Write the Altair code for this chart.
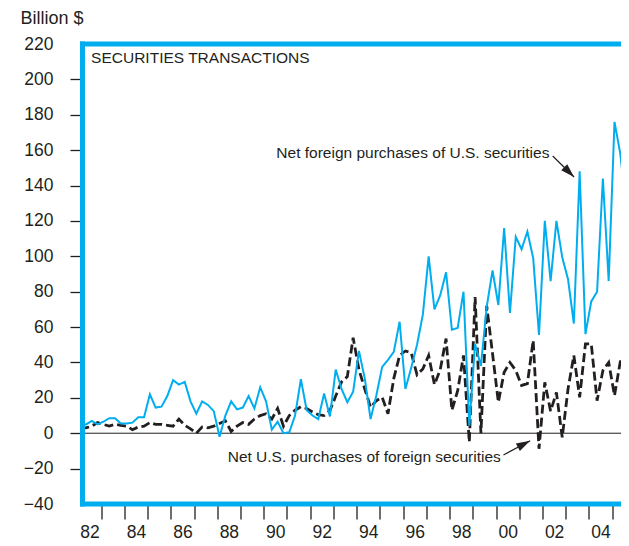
import altair as alt
import pandas as pd

# quarterly observations, 1982Q1 .. 2005Q4 (billion $)
quarters = [f"{y}Q{q}" for y in range(1982, 2006) for q in range(1, 5)]

foreign_purchases_of_us = [
    5, 5, 7, 5,
    6.5, 8.5, 8.5, 5.5,
    5.5, 6, 9, 9,
    22, 14.5, 15, 21,
    30, 27.5, 29, 18,
    11, 18, 16, 12.5,
    -2, 10, 18, 13.5,
    14.5, 21, 14, 26,
    18, 2, 6.5, 0,
    0.5, 10, 30.5, 13,
    10, 8, 22.5, 9.5,
    36, 25, 17.5, 23.5,
    46.5, 31, 8, 21.5,
    37.5, 41.5, 46, 63,
    25, 37, 50, 67,
    100, 70, 78, 91,
    58.5, 59.5, 80, 4.2,
    50.5, 38, 71.5, 92,
    72.5, 116, 68, 111,
    104, 114, 99, 55.5,
    120, 86, 120, 99.5,
    87, 62, 148, 56,
    74.5, 80, 144, 86,
    176, 158, 127, 200,
]

us_purchases_of_foreign = [
    3, 3, 4, 6,
    5, 4, 5, 4.5,
    4, 2, 3.5, 4,
    6, 5, 5, 4.5,
    4, 8, 4.5, 2.5,
    0, 3.5, 3, 4,
    5.5, 7, 1, 4,
    6, 5, 8, 10,
    11, 8, 14, 4,
    10, 13, 15, 14,
    12, 10.5, 10, 12.8,
    21, 29, 32, 54,
    36, 25, 14.6, 18.4,
    20.3, 11, 31, 44,
    46.5, 45.5, 33, 36.3,
    44, 27.5, 36, 53.5,
    13, 24, 44, -5,
    77, 0, 72, 45,
    17.5, 34.5, 40, 35.5,
    27, 28, 52.5, -8.8,
    28.8, 12.5, 23, -2.3,
    25, 44, 20.3, 50.5,
    50.5, 18.4, 35.4, 40,
    21.3, 40.5, 44, 38,
]

year_ticks = list(range(1983, 2006))
value_ticks = list(range(-40, 221, 20))

df = pd.DataFrame({"quarter": quarters,
                   "foreign": foreign_purchases_of_us,
                   "us": us_purchases_of_foreign})
df["t"] = (df["quarter"].str[:4].astype(int)
           + (df["quarter"].str[5].astype(int) - 1) / 4 + 0.1)

CYAN = "#00AEEF"
INK = "#231F20"
FONT = "Liberation Sans"

X0, X1 = 1982.2, 2005.38
Y0, Y1 = -40, 220
xs = alt.Scale(domain=[X0, X1], nice=False, zero=False)
ys = alt.Scale(domain=[Y0, Y1], nice=False, zero=False)

xaxis = alt.Axis(
    values=year_ticks, tickCount=100,
    labelExpr="datum.value % 2 == 1 ? slice(toString(datum.value - 1), 2) : ''",
    labelOffset=-11.6, labelPadding=4.5, labelFlush=False, labelOverlap=False,
    labelFont=FONT, labelFontSize=17.5, labelColor=INK,
    tickSize=15, tickWidth=1.3, tickColor=INK,
    domain=False, grid=False, title=None,
)
yaxis = alt.Axis(
    values=value_ticks, tickCount=100,
    labelExpr="replace(toString(datum.value), '-', '\u2212')",
    labelPadding=17, labelFlush=False, labelOverlap=False,
    labelFont=FONT, labelFontSize=17.5, labelColor=INK,
    tickSize=12.5, tickWidth=1.3, tickColor=INK,
    tickOpacity={"condition": {"test": "datum.value == 220 || datum.value == -40", "value": 0}, "value": 1},
    domain=False, grid=False,
    title="Billion $", titleAngle=0, titleAlign="left", titleBaseline="alphabetic",
    titleX=-62.5, titleY=-20.7, titleFont=FONT, titleFontSize=18,
    titleFontWeight="normal", titleColor=INK,
)

one = pd.DataFrame({"z": [0]})

foreign_line = alt.Chart(df).mark_line(color=CYAN, strokeWidth=2, clip=True).encode(
    x=alt.X("t:Q", scale=xs, axis=xaxis),
    y=alt.Y("foreign:Q", scale=ys, axis=yaxis),
)
us_line = alt.Chart(df).mark_line(color=INK, strokeWidth=2.8, strokeDash=[9, 4], clip=True).encode(
    x="t:Q", y="us:Q",
)
zero_line = alt.Chart(one).mark_rule(color=INK, strokeWidth=1).encode(y="z:Q")

frame_left = alt.Chart(one).mark_rule(color=CYAN, strokeWidth=5, strokeCap="square").encode(
    x=alt.datum(X0), y=alt.datum(Y0), y2=alt.datum(Y1))
frame_top = alt.Chart(one).mark_rule(color=CYAN, strokeWidth=5, strokeCap="square").encode(
    y=alt.datum(Y1))
frame_bottom = alt.Chart(one).mark_rule(color=CYAN, strokeWidth=5, strokeCap="square").encode(
    y=alt.datum(Y0))

def label(text, x, y, align):
    return alt.Chart(one).mark_text(align=align, baseline="alphabetic", font=FONT,
                                    fontSize=15.5, color=INK).encode(
        x=alt.datum(x), y=alt.datum(y), text=alt.value(text))

title_txt = label("SECURITIES TRANSACTIONS", 1982.57, 209.3, "left")
foreign_txt = label("Net foreign purchases of U.S. securities", 2002.30, 155.5, "right")
us_txt = label("Net U.S.  purchases of foreign securities", 1988.45, -16.4, "left")

HEAD = "M0,0L-0.55,1.8L0.55,1.8Z"

def arrow(x1, y1, x2, y2, ang):
    shaft = alt.Chart(one).mark_rule(color=INK, strokeWidth=1.2).encode(
        x=alt.datum(x1), y=alt.datum(y1), x2=alt.datum(x2), y2=alt.datum(y2))
    head = alt.Chart(one).mark_point(shape=HEAD, filled=True, size=240, angle=ang,
                                     color=INK, opacity=1, strokeWidth=0).encode(
        x=alt.datum(x2), y=alt.datum(y2))
    return shaft + head

arrow1 = arrow(2002.44, 156.7, 2003.36, 144.8, 135)
arrow2 = arrow(2000.32, -12.3, 2001.47, -4.2, 62)

chart = alt.layer(
    zero_line, us_line, foreign_line,
    title_txt, foreign_txt, us_txt, arrow1, arrow2,
    frame_left, frame_top, frame_bottom,
).properties(
    width=538.5, height=460,
    autosize=alt.AutoSizeParams(type="none"),
    padding={"left": 74.5, "top": 36, "right": 0, "bottom": 38},
    background="white",
).configure_view(stroke=None)

chart.save("out.html", embed_options={"renderer": "svg", "actions": False})
